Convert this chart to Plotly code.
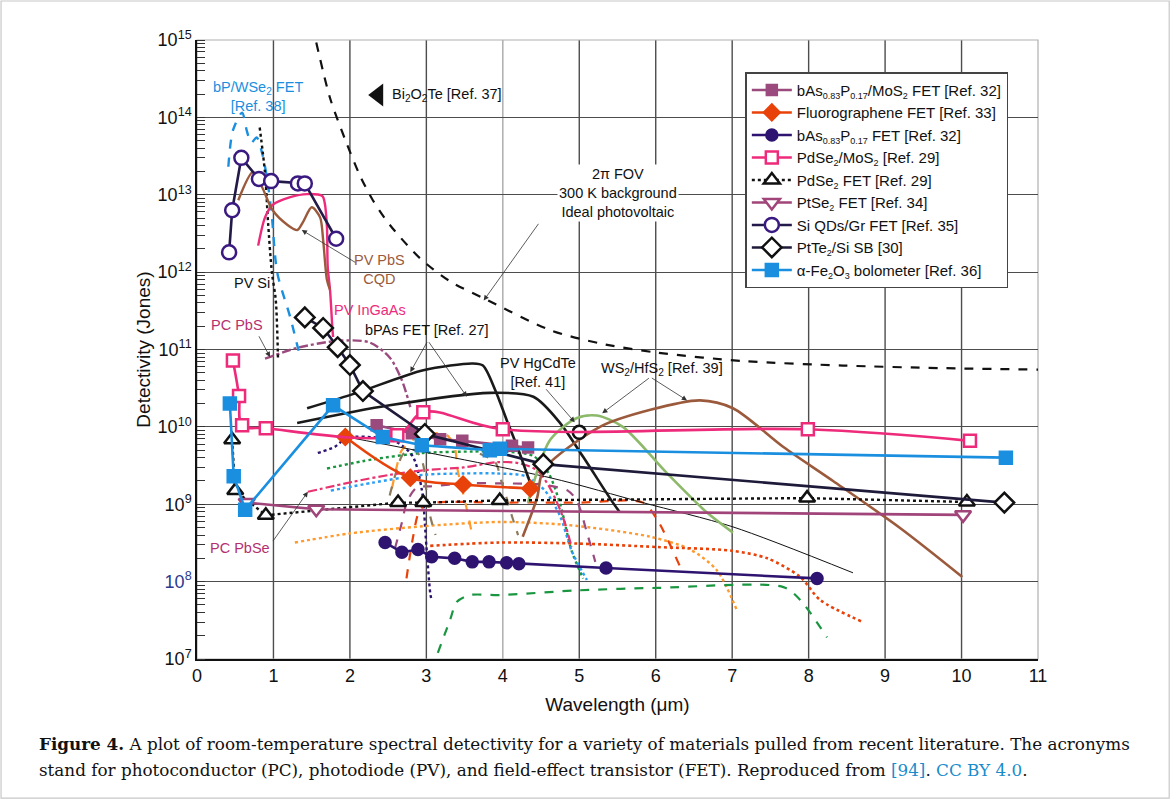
import numpy as np
import plotly.graph_objects as go

# ---------------- data: legend series ----------------
bas_mos2_x = [2.35, 2.81, 3.18, 3.47, 4.12, 4.33]
bas_mos2_y = [1.05e10, 8.3e9, 6.9e9, 6.6e9, 5.7e9, 5.4e9]

fluoro_x = [1.94, 2.79, 3.48, 4.36]
fluoro_y = [7.4e9, 2.2e9, 1.8e9, 1.6e9]

bas_fet_x = [2.46, 2.68, 2.89, 3.07, 3.37, 3.60, 3.82, 4.05, 4.21, 5.35, 8.11]
bas_fet_y = [3.2e8, 2.4e8, 2.6e8, 2.1e8, 2.0e8, 1.8e8, 1.8e8, 1.75e8, 1.7e8, 1.5e8, 1.1e8]

pdse2_mos2_x = [0.47, 0.55, 0.59, 0.90, 2.62, 2.96, 4.00, 7.99, 10.11]
pdse2_mos2_y = [7.2e10, 2.5e10, 1.05e10, 9.6e9, 7.8e9, 1.55e10, 9.3e9, 9.3e9, 6.6e9]

pdse2_fet_x = [0.46, 0.50, 0.90, 2.63, 2.96, 3.96, 7.98, 10.07]
pdse2_fet_y = [6.8e9, 1.5e9, 7.2e8, 1.05e9, 1.05e9, 1.12e9, 1.2e9, 1.07e9]

ptse2_x = [0.65, 1.56, 10.02]
ptse2_y = [1.05e9, 8.6e8, 7.3e8]

siqd_x = [0.42, 0.46, 0.58, 0.81, 0.97, 1.32, 1.41, 1.82]
siqd_y = [1.8e12, 6.3e12, 3.0e13, 1.6e13, 1.5e13, 1.4e13, 1.4e13, 2.7e12]

ptte2_x = [1.41, 1.65, 1.84, 2.00, 2.17, 2.98, 4.53, 10.56]
ptte2_y = [2.6e11, 1.9e11, 1.07e11, 6.3e10, 2.9e10, 8.1e9, 3.3e9, 1.05e9]

fe2o3_x = [0.43, 0.48, 0.63, 1.78, 2.43, 2.94, 3.83, 3.96, 10.58]
fe2o3_y = [2.0e10, 2.3e9, 8.5e8, 1.9e10, 7.4e9, 5.8e9, 5.0e9, 5.2e9, 4.0e9]

# ---------------- data: annotated curves ----------------
blip_x = [1.56, 1.74, 1.94, 2.13, 2.30, 2.52, 2.92, 3.31, 3.79, 4.62, 5.27, 6.02, 7.14, 8.45, 9.72, 11.0]
blip_y = [9.3e14, 1.78e14, 5.1e13, 1.78e13, 8.5e12, 4.1e12, 1.5e12, 7.6e11, 4.4e11, 1.78e11,
          1.2e11, 9.1e10, 7.1e10, 6.2e10, 5.75e10, 5.5e10]

bpwse2_x = [0.41, 0.47, 0.59, 0.65, 0.71, 0.78, 0.85, 0.92, 0.98, 1.05, 1.22, 1.35]
bpwse2_y = [2.3e13, 6.8e13, 1.15e14, 6.8e13, 4.7e13, 5.5e13, 3.5e13, 1.55e13, 5.1e12, 9.8e11, 2.6e11, 7.9e10]

pvsi_x = [0.82, 0.89, 0.93, 0.98, 1.03, 1.06]
pvsi_y = [7.4e13, 1.9e13, 4.3e12, 9.8e11, 4.4e11, 7.2e10]

pbs_cqd_x = [0.54, 0.73, 0.85, 0.99, 1.18, 1.31, 1.39, 1.50, 1.61, 1.65, 1.70, 1.74]
pbs_cqd_y = [8.5e12, 1.95e13, 1.26e13, 6.3e12, 4.1e12, 3.5e12, 4.5e12, 6.9e12, 5.1e12, 2.6e12, 7.9e11, 5.9e11]

ingaas_x = [0.80, 0.89, 0.99, 1.22, 1.44, 1.64, 1.67, 1.70, 1.71, 1.74, 1.77, 1.78]
ingaas_y = [2.2e12, 5.1e12, 7.4e12, 9.3e12, 1.02e13, 9.6e12, 7.9e12, 3.8e12, 1.15e12, 5.9e11, 1.95e11, 1.45e11]

pcpbs_x = [0.89, 1.31, 1.87, 2.26, 2.52, 2.68, 2.79]
pcpbs_y = [7.6e10, 1.05e11, 1.3e11, 1.23e11, 7.9e10, 4.0e10, 1.8e10]

pcpbse_x = [1.45, 2.04, 2.52, 2.96, 3.49, 3.93, 4.2, 4.45, 4.62, 4.78, 4.9]
pcpbse_y = [1.45e9, 1.95e9, 2.4e9, 2.75e9, 3.0e9, 3.5e9, 3.4e9, 2.75e9, 1.6e9, 7.1e8, 2.8e8]

bpas_a_x = [1.44, 2.09, 2.96, 3.61, 3.74, 3.90, 4.05, 4.19, 4.36]
bpas_a_y = [1.74e10, 2.75e10, 5.4e10, 6.6e10, 6.2e10, 3.0e10, 1.23e10, 5.5e9, 1.86e9]

bpas_b_x = [1.31, 2.52, 3.83, 4.40, 4.75, 5.05, 5.44, 5.53]
bpas_b_y = [1.12e10, 1.9e10, 2.75e10, 2.45e10, 1.12e10, 4.1e9, 1.05e9, 7.9e8]

thin_x = [1.96, 4.62, 5.83, 7.01, 8.58]
thin_y = [7.4e9, 2.2e9, 1.05e9, 5.1e8, 1.3e8]

ws2_green_x = [4.33, 4.62, 4.97, 5.23, 5.57, 6.15, 6.67, 7.01]
ws2_green_y = [1.05e9, 6.8e9, 1.3e10, 1.4e10, 1.0e10, 2.5e9, 7.8e8, 4.3e8]

ws2_brown_x = [4.26, 4.45, 4.53, 5.27, 5.93, 6.58, 7.01, 7.67, 8.32, 9.20, 10.01]
ws2_brown_y = [3.8e8, 1.23e9, 2.75e9, 1.0e10, 1.66e10, 2.2e10, 1.74e10, 5.5e9, 2.0e9, 4.9e8, 1.15e8]

hgcdte_x = [5.0]
hgcdte_y = [8.5e9]

bi2o2te_x = [2.37]
bi2o2te_y = [1.95e14]

# ---------------- data: unlabeled spectral curves ----------------
green_dot_x = [1.70, 2.30, 2.96, 3.60, 4.00, 4.40, 4.60, 4.75, 4.90, 5.05]
green_dot_y = [2.9e9, 3.8e9, 4.6e9, 4.8e9, 4.8e9, 4.2e9, 2.5e9, 1.0e9, 2.5e8, 1.1e8]

blue_dot_x = [1.75, 2.30, 2.96, 3.50, 3.92, 4.30, 4.55, 4.75, 4.90, 5.10]
blue_dot_y = [1.5e9, 1.9e9, 2.4e9, 2.5e9, 2.5e9, 2.3e9, 1.5e9, 7e8, 2.5e8, 1.05e8]

indigo_dot_x = [1.58, 1.80, 1.96, 2.39, 2.62, 2.82, 2.94, 3.00, 3.05, 3.07]
indigo_dot_y = [4.6e9, 5.5e9, 7.2e9, 7.2e9, 6.3e9, 4.2e9, 1.55e9, 2.9e8, 7.2e7, 5.6e7]

orange_dot_x = [1.28, 2.00, 2.96, 3.96, 4.84, 5.93, 6.45, 6.80, 7.06]
orange_dot_y = [3.2e8, 4.2e8, 5.2e8, 5.9e8, 5.4e8, 3.8e8, 2.6e8, 1.4e8, 4.3e7]

red_dot_x = [3.05, 3.96, 5.00, 6.02, 7.00, 7.46, 7.89, 8.15, 8.71]
red_dot_y = [2.9e8, 3.2e8, 3.1e8, 2.8e8, 2.5e8, 2.0e8, 1.15e8, 5.8e7, 3.0e7]

green_dash_x = [3.15, 3.31, 3.40, 3.57, 3.96, 4.97, 6.02, 7.67, 7.89, 8.24]
green_dash_y = [1.2e7, 3.2e7, 5.5e7, 6.7e7, 6.7e7, 7.7e7, 8.3e7, 8.5e7, 5.8e7, 1.9e7]

red_dash_x = [2.74, 2.82, 2.90, 3.00, 4.00, 5.00, 5.83, 6.02, 6.32]
red_dash_y = [1.1e8, 3.5e8, 7.8e8, 1.0e9, 1.05e9, 1.05e9, 1.05e9, 6.3e8, 1.55e8]

mauve_dash_x = [2.59, 2.68, 2.75, 2.88, 3.05, 3.50, 4.00, 4.50, 4.85, 4.97, 5.10, 5.21]
mauve_dash_y = [2.7e8, 5.8e8, 1.1e9, 1.66e9, 1.7e9, 1.86e9, 1.86e9, 1.8e9, 1.5e9, 1.1e9, 4.3e8, 1.8e8]

orange_dash_x = [2.55, 2.61, 2.68, 2.90, 3.14, 3.27, 3.37, 3.41, 3.51, 3.61]
orange_dash_y = [1.6e9, 3.0e9, 5.0e9, 7.5e9, 8.3e9, 7.8e9, 5.5e9, 2.75e9, 1.05e9, 3.6e8]

gray_dash1_x = [2.52, 2.60, 2.70, 2.85, 2.95, 3.00, 3.05, 3.12]
gray_dash1_y = [1.3e9, 2.5e9, 4.5e9, 5.0e9, 3.5e9, 1.5e9, 7e8, 4e8]

gray_dash2_x = [3.70, 3.90, 3.98, 4.05, 4.12, 4.20]
gray_dash2_y = [4.5e9, 3.5e9, 2.0e9, 1.2e9, 7e8, 4e8]

# ---------------- axis ticks ----------------
y_tick_vals = [1e7, 1e8, 1e9, 1e10, 1e11, 1e12, 1e13, 1e14, 1e15]
y_tick_text = ["10<sup>7</sup>", "<span style='color:#2b3990'>10<sup>8</sup></span>", "10<sup>9</sup>",
               "10<sup>10</sup>", "10<sup>11</sup>", "10<sup>12</sup>", "10<sup>13</sup>",
               "10<sup>14</sup>", "10<sup>15</sup>"]
x_tick_vals = list(range(0, 12))

# ---------------- styling ----------------
SANS = "Liberation Sans, Arial, sans-serif"
NARROW = "Liberation Sans Narrow, Arial Narrow, Liberation Sans, sans-serif"
SERIF = "DejaVu Serif, Liberation Serif, serif"

C_MAUVE = "#9b4a7e"
C_ORED = "#e8420a"
C_INDIGO = "#2e1470"
C_PINK = "#ee2a7b"
C_BLUE = "#1a8fe0"
C_BROWN = "#9b5a3c"
C_GREEN = "#1a9641"
C_LGREEN = "#8db96b"
C_ORANGE = "#ff9a2e"
C_GRAY = "#8c7b5e"
C_PCPINK = "#b5306e"


def small_sub(t):
    return "<sub><span style='font-size:9px'>" + t + "</span></sub>"


fig = go.Figure()


def line(x, y, color, width=2.0, dash="solid", shape="spline", smoothing=0.8):
    fig.add_trace(go.Scatter(x=x, y=y, mode="lines", showlegend=False, hoverinfo="skip",
                             line=dict(color=color, width=width, dash=dash, shape=shape,
                                       smoothing=smoothing)))


# unlabeled spectral curves
line(green_dot_x, green_dot_y, C_GREEN, 2.4, "dot")
line(blue_dot_x, blue_dot_y, "#2a9df4", 2.4, "dot")
line(indigo_dot_x, indigo_dot_y, C_INDIGO, 2.4, "dot")
line(orange_dot_x, orange_dot_y, C_ORANGE, 2.4, "dot")
line(red_dot_x, red_dot_y, C_ORED, 2.6, "dot")
line(green_dash_x, green_dash_y, C_GREEN, 2.2, "dash")
line(red_dash_x, red_dash_y, C_ORED, 2.2, "dash")
line(mauve_dash_x, mauve_dash_y, C_MAUVE, 2.2, "dash")
line(orange_dash_x, orange_dash_y, C_ORANGE, 2.2, "dash")
line(gray_dash1_x, gray_dash1_y, C_GRAY, 2.2, "dash")
line(gray_dash2_x, gray_dash2_y, C_GRAY, 2.2, "dash")

# annotated curves
line(pcpbse_x, pcpbse_y, "#e8336e", 2.2, "dashdot")
line(pcpbs_x, pcpbs_y, C_MAUVE, 2.4, "dashdot")
line(bpwse2_x, bpwse2_y, C_BLUE, 2.4, "dash")
line(pvsi_x, pvsi_y, "#111111", 2.4, "dot")
line(ingaas_x, ingaas_y, C_PINK, 2.4)
line(pbs_cqd_x, pbs_cqd_y, C_BROWN, 2.4)
line(thin_x, thin_y, "#111111", 1.0)
line(bpas_a_x, bpas_a_y, "#1a1a1a", 2.6)
line(bpas_b_x, bpas_b_y, "#1a1a1a", 2.6)
line(ws2_green_x, ws2_green_y, C_LGREEN, 2.6)
line(ws2_brown_x, ws2_brown_y, C_BROWN, 2.6)
line(blip_x, blip_y, "#111111", 2.2, "dash")

fig.add_trace(go.Scatter(x=hgcdte_x, y=hgcdte_y, mode="markers", showlegend=False, hoverinfo="skip",
                         marker=dict(symbol="circle", size=13, color="white",
                                     line=dict(color="#111111", width=2.5))))
fig.add_trace(go.Scatter(x=bi2o2te_x, y=bi2o2te_y, mode="markers", showlegend=False, hoverinfo="skip",
                         marker=dict(symbol="triangle-left", size=20, color="#111111")))


# legend series
def series(name, x, y, lcolor, symbol, mcolor, mline, size, dash="solid", lw=2.6, shape="linear"):
    fig.add_trace(go.Scatter(x=x, y=y, name=name, mode="lines+markers", hoverinfo="skip",
                             line=dict(color=lcolor, width=lw, dash=dash, shape=shape),
                             marker=dict(symbol=symbol, size=size, color=mcolor,
                                         line=dict(color=mline, width=2.5))))


series("bAs" + small_sub("0.83") + "P" + small_sub("0.17") + "/MoS" + small_sub("2") + " FET [Ref. 32]",
       bas_mos2_x, bas_mos2_y, C_MAUVE, "square", C_MAUVE, C_MAUVE, 10)
series("Fluorographene FET [Ref. 33]", fluoro_x, fluoro_y, C_ORED, "diamond", C_ORED, C_ORED, 12,
       shape="spline")
series("bAs" + small_sub("0.83") + "P" + small_sub("0.17") + " FET [Ref. 32]", bas_fet_x, bas_fet_y,
       C_INDIGO, "circle", C_INDIGO, C_INDIGO, 11)
series("PdSe" + small_sub("2") + "/MoS" + small_sub("2") + " [Ref. 29]", pdse2_mos2_x, pdse2_mos2_y,
       C_PINK, "square", "white", C_PINK, 12, shape="spline")
series("PdSe" + small_sub("2") + " FET [Ref. 29]", pdse2_fet_x, pdse2_fet_y, "#111111", "triangle-up",
       "white", "#111111", 14, dash="dot", lw=2.4)
series("PtSe" + small_sub("2") + " FET [Ref. 34]", ptse2_x, ptse2_y, "#a0447a", "triangle-down", "white",
       "#a0447a", 14)
series("Si QDs/Gr FET [Ref. 35]", siqd_x, siqd_y, "#231a4a", "circle", "white", "#3a1a80", 14)
series("PtTe" + small_sub("2") + "/Si SB [30]", ptte2_x, ptte2_y, "#1e1a3a", "diamond", "white",
       "#111111", 15)
series("α-Fe" + small_sub("2") + "O" + small_sub("3") + " bolometer [Ref. 36]", fe2o3_x, fe2o3_y,
       C_BLUE, "square", C_BLUE, C_BLUE, 12)

L = np.log10
annotations = []


def label(text, x, y, color="#111111", size=14, xanchor="center", bg=None):
    d = dict(x=x, y=L(y), xref="x", yref="y", text=text, showarrow=False, xanchor=xanchor,
             yanchor="middle", font=dict(family=SANS, size=size, color=color))
    if bg:
        d["bgcolor"] = bg
    annotations.append(d)


def arrow(x_tip, y_tip, x_tail, y_tail):
    annotations.append(dict(x=x_tip, y=L(y_tip), ax=x_tail, ay=L(y_tail), xref="x", yref="y",
                            axref="x", ayref="y", text="", showarrow=True, arrowhead=2,
                            arrowsize=1.3, arrowwidth=0.8, arrowcolor="#333333"))


label("bP/WSe<sub>2</sub> FET<br>[Ref. 38]", 0.80, 1.85e14, C_BLUE, 14.5)
label("Bi<sub>2</sub>O<sub>2</sub>Te [Ref. 37]", 2.53, 1.95e14, "#111111", 14.5, xanchor="left")
label("2π FOV<br>300 K background<br>Ideal photovoltaic", 5.51, 1.05e13, "#111111", 14.5, bg="white")
arrow(3.75, 4.3e11, 4.48, 4.4e12)
label("PV PbS<br>CQD", 2.39, 1.07e12, C_BROWN, 14.5)
arrow(1.37, 3.5e12, 2.09, 1.3e12)
label("PV Si", 0.72, 7.2e11, "#111111", 14.5)
label("PC PbS", 0.52, 2.1e11, C_PCPINK, 14.5)
arrow(0.955, 8.0e10, 0.80, 1.55e11)
label("PV InGaAs", 2.26, 3.2e11, C_PINK, 14.5)
label("bPAs FET [Ref. 27]", 3.01, 1.78e11, "#111111", 14.5)
arrow(2.79, 5.1e10, 3.02, 1.3e11)
arrow(3.53, 2.45e10, 3.02, 1.3e11)
label("PV HgCdTe<br>[Ref. 41]", 4.46, 5.0e10, "#111111", 14.5)
arrow(4.94, 1.15e10, 4.55, 3.2e10)
label("WS<sub>2</sub>/HfS<sub>2</sub> [Ref. 39]", 6.08, 5.6e10, "#111111", 14.5)
arrow(5.30, 1.5e10, 5.93, 4.4e10)
arrow(6.41, 2.2e10, 5.93, 4.4e10)
label("PC PbSe", 0.56, 2.7e8, C_PCPINK, 14.5)
arrow(1.45, 1.45e9, 0.98, 3.2e8)

# caption
annotations.append(dict(xref="paper", yref="paper", x=-0.190, y=-0.137, xanchor="left", yanchor="middle",
                        showarrow=False, align="left",
                        text="<b>Figure 4.</b> A plot of room-temperature spectral detectivity for a variety of "
                             "materials pulled from recent literature. The acronyms",
                        font=dict(family=SERIF, size=16.8, color="#111111")))
annotations.append(dict(xref="paper", yref="paper", x=-0.190, y=-0.179, xanchor="left", yanchor="middle",
                        showarrow=False, align="left",
                        text="stand for photoconductor (PC), photodiode (PV), and field-effect transistor (FET). "
                             "Reproduced from <span style='color:#1a8ccd'>[94]</span>. "
                             "<span style='color:#1a8ccd'>CC BY 4.0</span>.",
                        font=dict(family=SERIF, size=16.8, color="#111111")))

shapes = []
for xv in range(1, 11):
    shapes.append(dict(type="line", xref="x", yref="paper", x0=xv, x1=xv, y0=0, y1=1, layer="below",
                       line=dict(color="#a8a8a8" if xv == 4 else "#4d4d4d", width=1.4)))
# plot frame (light) and figure frame
shapes.append(dict(type="rect", xref="paper", yref="paper", x0=0, x1=1, y0=0, y1=1, layer="below",
                   line=dict(color="#b0b0b0", width=1.2)))
shapes.append(dict(type="rect", xref="paper", yref="paper", x0=-0.233, x1=1.156, y0=-0.2246, y1=1.063,
                   layer="below", line=dict(color="#c8c8c8", width=1.2)))

fig.update_layout(
    width=1171, height=800,
    margin=dict(l=197, r=133, t=40, b=141),
    paper_bgcolor="white", plot_bgcolor="white",
    font=dict(family=SANS, color="#111111"),
    showlegend=True,
    legend=dict(x=0.652, y=0.948, xanchor="left", yanchor="top", bgcolor="white",
                bordercolor="#444444", borderwidth=1.5, font=dict(family=SANS, size=15, color="#111111"),
                itemwidth=40, tracegroupgap=0),
    annotations=annotations,
    shapes=shapes,
    xaxis=dict(range=[0, 11], tickvals=x_tick_vals, showgrid=False, zeroline=False,
               showline=True, linecolor="#111111", linewidth=1.5, ticks="",
               tickfont=dict(family=SANS, size=18, color="#111111"),
               title=dict(text="Wavelength (μm)", font=dict(family=NARROW, size=19), standoff=12)),
    yaxis=dict(type="log", range=[7, 15], tickvals=y_tick_vals, ticktext=y_tick_text,
               showgrid=True, gridcolor="#4d4d4d", gridwidth=1.4, zeroline=False,
               showline=True, linecolor="#111111", linewidth=1.5, ticks="",
               tickfont=dict(family=SANS, size=18, color="#111111"),
               minor=dict(ticks="inside", ticklen=8, tickcolor="#333333", tickwidth=1.2,
                          dtick="D1", showgrid=False),
               title=dict(text="Detectivity (Jones)", font=dict(family=NARROW, size=19), standoff=2)),
)

fig.write_html("out.html", config={"displayModeBar": False},
               post_script="document.body.style.margin='0px';")
